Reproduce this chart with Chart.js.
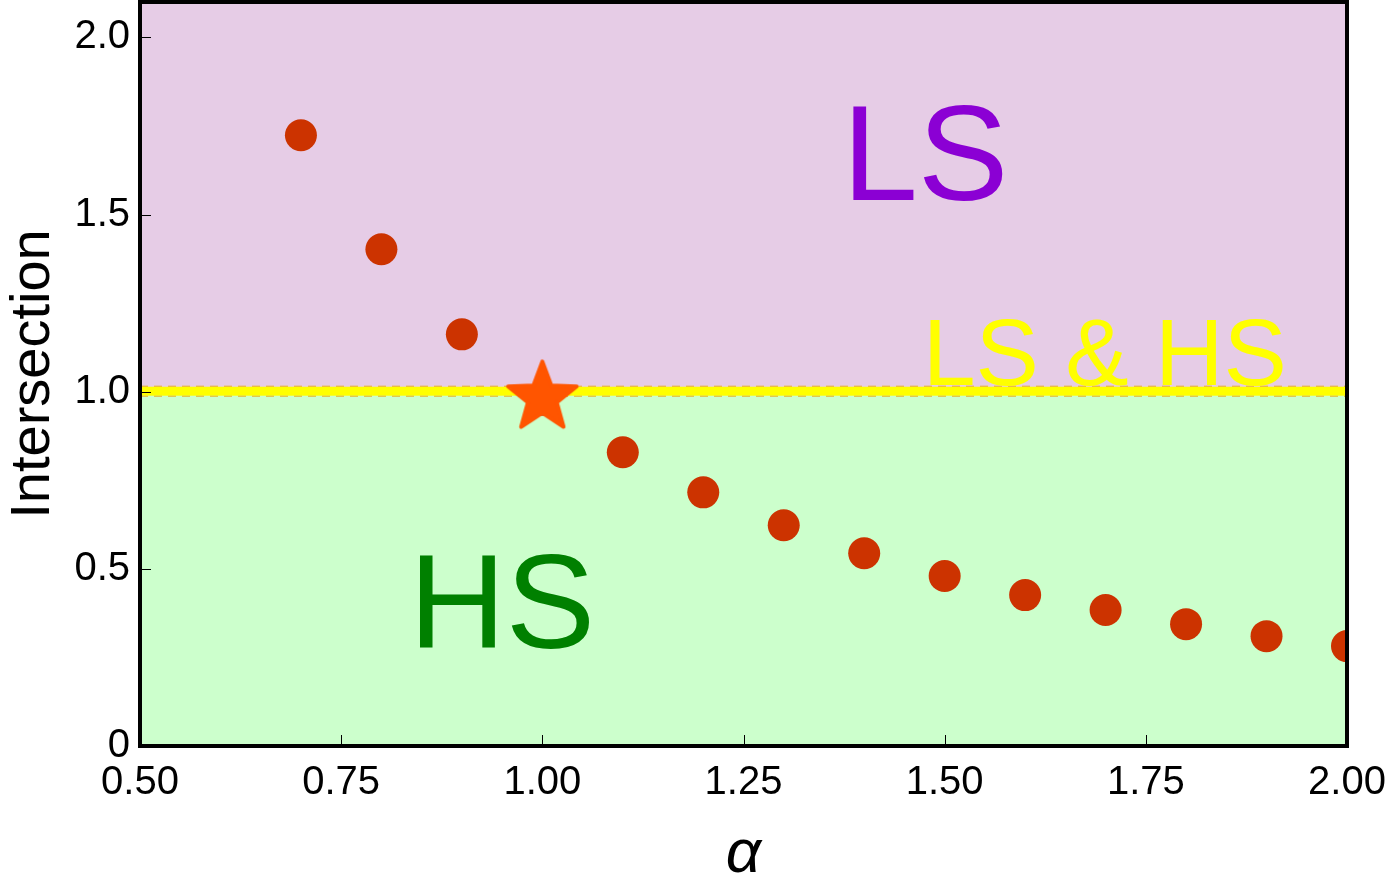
<!DOCTYPE html>
<html><head><meta charset="utf-8">
<script src="https://cdn.jsdelivr.net/npm/chart.js@4/dist/chart.umd.min.js"></script>
<style>html,body{margin:0;padding:0;background:#fff;}#wrap{width:1389px;height:895px;}</style>
</head><body><div id="wrap"><canvas id="c" width="1389" height="895"></canvas></div>
<script>
const alphaValues = [0.7, 0.8, 0.9, 1.0, 1.1, 1.2, 1.3, 1.4, 1.5, 1.6, 1.7, 1.8, 1.9, 2.0];
const intersectionValues = [1.724, 1.402, 1.162, 0.977, 0.829, 0.716, 0.623, 0.544, 0.480, 0.426, 0.384, 0.344, 0.310, 0.282];
const starPoint = [1.0, 0.993];
const boundaryValue = 1.0;
const xTickValues = [0.5, 0.75, 1.0, 1.25, 1.5, 1.75, 2.0];
const yTickValues = [0, 0.5, 1.0, 1.5, 2.0];
const regionLabels = [
  {text: 'LS', x: 1.476, y: 1.54, color: '#8B00D4', size: 136},
  {text: 'HS', x: 0.95, y: 0.276, color: '#008000', size: 134},
  {text: 'LS & HS', x: 1.699, y: 1.018, color: '#FFFF00', size: 95}
];

const FONT = "'Liberation Sans', Arial, sans-serif";

function makeStar(R) {
  const s = Math.ceil(R * 2 + 8);
  const cv = document.createElement('canvas');
  cv.width = s; cv.height = s;
  const g = cv.getContext('2d');
  const cx = s / 2, cy = s / 2 + R * 0.095;
  const r = R * 0.42;
  g.beginPath();
  for (let i = 0; i < 10; i++) {
    const rad = i % 2 === 0 ? R : r;
    const a = -Math.PI / 2 + i * Math.PI / 5;
    const px = cx + rad * Math.cos(a), py = cy + rad * Math.sin(a);
    if (i === 0) g.moveTo(px, py); else g.lineTo(px, py);
  }
  g.closePath();
  g.fillStyle = '#FF5500';
  g.strokeStyle = '#FF5500';
  g.lineJoin = 'round';
  g.lineWidth = 4;
  g.fill(); g.stroke();
  return cv;
}
const starImg = makeStar(36);

const regionsPlugin = {
  id: 'regions',
  beforeDatasetsDraw(chart) {
    const {ctx, chartArea: a, scales: {x, y}} = chart;
    const yb = y.getPixelForValue(boundaryValue);
    ctx.save();
    ctx.fillStyle = '#E6CCE6';
    ctx.fillRect(a.left, a.top, a.right - a.left, yb - a.top);
    ctx.fillStyle = '#CCFFCC';
    ctx.fillRect(a.left, yb, a.right - a.left, a.bottom - yb);
    ctx.fillStyle = '#FFFF00';
    ctx.fillRect(a.left, yb - 5, a.right - a.left, 9);
    ctx.strokeStyle = '#E8B020';
    ctx.lineWidth = 1;
    ctx.setLineDash([8, 6]);
    ctx.beginPath();
    ctx.moveTo(a.left, yb - 5.5); ctx.lineTo(a.right, yb - 5.5);
    ctx.moveTo(a.left, yb + 4.5); ctx.lineTo(a.right, yb + 4.5);
    ctx.stroke();
    ctx.setLineDash([]);
    regionLabels.forEach(l => {
      ctx.font = l.size + 'px ' + FONT;
      ctx.fillStyle = l.color;
      ctx.textAlign = 'center';
      ctx.textBaseline = 'alphabetic';
      ctx.fillText(l.text, x.getPixelForValue(l.x), y.getPixelForValue(l.y));
    });
    ctx.restore();
  },
  afterDraw(chart) {
    const {ctx, chartArea: a, scales: {x, y}} = chart;
    ctx.save();
    ctx.strokeStyle = '#000';
    ctx.lineWidth = 1;
    ctx.beginPath();
    xTickValues.forEach(v => {
      const px = Math.round(x.getPixelForValue(v)) + 0.5;
      ctx.moveTo(px, a.bottom); ctx.lineTo(px, a.bottom - 11);
    });
    yTickValues.forEach(v => {
      const py = Math.round(y.getPixelForValue(v)) + 0.5;
      ctx.moveTo(a.left, py); ctx.lineTo(a.left + 11, py);
    });
    ctx.stroke();
    ctx.lineWidth = 4;
    ctx.strokeRect(a.left, a.top, a.right - a.left, a.bottom - a.top);
    ctx.restore();
  }
};

new Chart(document.getElementById('c'), {
  type: 'scatter',
  data: {
    datasets: [
      {
        data: [{x: starPoint[0], y: starPoint[1]}],
        pointStyle: starImg,
        pointRadius: 38,
        clip: 0,
        order: 1
      },
      {
        data: alphaValues.map((v, i) => ({x: v, y: intersectionValues[i]})),
        backgroundColor: '#CC3300',
        borderColor: '#CC3300',
        borderWidth: 0,
        pointRadius: 16,
        clip: 0,
        order: 2
      }
    ]
  },
  options: {
    responsive: false,
    animation: false,
    devicePixelRatio: 1,
    layout: {autoPadding: false, padding: {top: 2, right: 42, left: 0, bottom: 0}},
    plugins: {legend: {display: false}, tooltip: {enabled: false}},
    scales: {
      x: {
        type: 'linear', min: 0.5, max: 2.0,
        afterBuildTicks: s => { s.ticks = xTickValues.map(v => ({value: v})); },
        afterFit: s => { s.height = 149; s.paddingLeft = 0; s.paddingRight = 0; },
        grid: {display: false, drawTicks: false},
        border: {display: false},
        ticks: {
          padding: 13, color: '#000', font: {family: FONT, size: 40},
          maxRotation: 0, autoSkip: false,
          callback: v => Number(v).toFixed(2)
        },
        title: {display: true, text: 'α', color: '#000', padding: {top: 0, bottom: 3},
          font: {family: FONT, size: 62, style: 'italic'}}
      },
      y: {
        type: 'linear', min: 0, max: 2.1,
        afterBuildTicks: s => { s.ticks = yTickValues.map(v => ({value: v})); },
        afterFit: s => { s.width = 140; s.paddingTop = 0; s.paddingBottom = 0; },
        grid: {display: false, drawTicks: false},
        border: {display: false},
        ticks: {
          padding: 10, color: '#000', font: {family: FONT, size: 40},
          autoSkip: false,
          callback: v => v === 0 ? '0' : Number(v).toFixed(1)
        },
        title: {display: true, text: 'Intersection', color: '#000', padding: {top: 0, bottom: 0},
          font: {family: FONT, size: 56}}
      }
    }
  },
  plugins: [regionsPlugin]
});
</script></body></html>
